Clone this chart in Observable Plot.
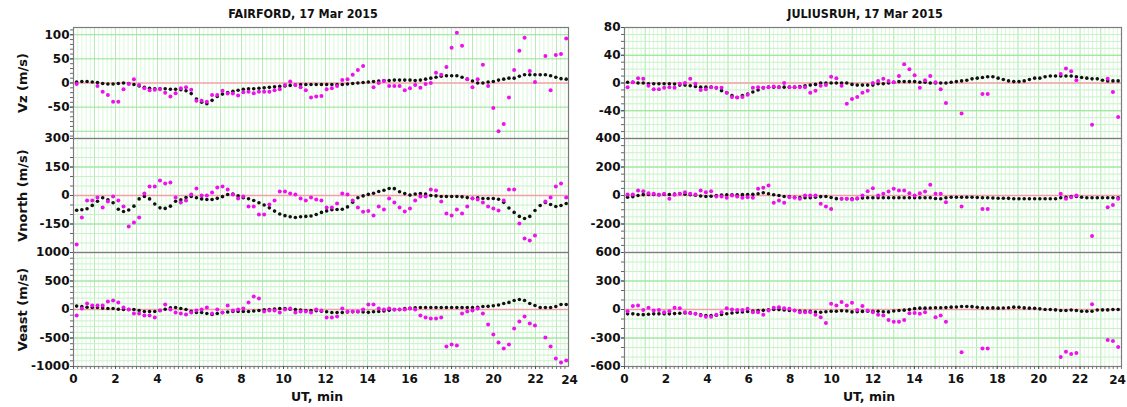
<!DOCTYPE html>
<html>
<head>
<meta charset="utf-8">
<script src="https://cdn.jsdelivr.net/npm/d3@7"></script>
<script src="https://cdn.jsdelivr.net/npm/@observablehq/plot@0.6"></script>
<style>
  body { margin: 0; background: #fff; }
  #chart { position: relative; width: 1127px; height: 407px; overflow: hidden; background: #fff; font-family: "DejaVu Sans", sans-serif; }
  #chart svg { position: absolute; }
  .title { position: absolute; font-weight: bold; font-size: 13px; line-height: 14px; white-space: nowrap; color: #111; transform: translateX(-50%) scaleX(0.86); }
</style>
</head>
<body>
<div id="chart"></div>
<script>
const _ = null;

// ---- sampling (minutes UT) ----
const tStart = 0.15;
const fairStep = 0.248;
const julStep = 0.252;
const fairXMax = 23.57;
const julXMax = 24;

// ---- tick labels ----
const xTickLabels = [0, 2, 4, 6, 8, 10, 12, 14, 16, 18, 20, 22];
const xLastLabel = 24;
const fairVzTicks = [100, 50, 0, -50];
const fairVnTicks = [300, 150, 0, -150];
const fairVeTicks = [1000, 500, 0, -500, -1000];
const julVzTicks = [80, 40, 0, -40];
const julVnTicks = [400, 200, 0, -200];
const julVeTicks = [600, 300, 0, -300, -600];

// ---- FAIRFORD ----
const fairVzModel = [2,3,3,2,1,-1,-2,-2,-1,0,
 -1,-3,-6,-9,-11,-12,-12,-12,-13,-13,
 -14,-16,-22,-33,-40,-43,-36,-28,-23,-20,
 -17,-15,-13,-12,-12,-11,-10,-9,-8,-7,
 -6,-5,-4,-3,-3,-3,-3,-3,-3,-3,
 -3,-3,-2,-1,0,1,2,3,4,5,
 5,6,6,6,6,5,6,8,10,12,
 14,15,15,15,12,8,4,0,0,2,
 3,6,8,10,10,14,17,17,17,17,
 17,15,12,9,8,8];
const fairVzMeas = [-2,_,_,_,-6,-18,-25,-39,-39,-13,
 -2,8,-4,-11,-15,-14,-13,-20,-28,-21,
 -11,-9,-14,-37,-37,-39,-25,-25,-16,-22,
 -22,-26,-19,-18,-21,-18,-18,-18,-15,-13,
 -4,3,-4,-9,-15,-30,-28,-27,-13,-11,
 -6,6,8,17,27,35,_,-9,0,4,
 -6,-6,-6,-15,-11,-4,-10,-2,0,21,
 17,33,73,104,77,8,-9,8,38,-6,
 -52,-100,-85,-30,27,67,94,25,2,_,
 56,-15,58,60,92,_];
const fairVnModel = [-78,-75,-70,-52,-30,-12,-22,-38,-72,-84,
 -76,-56,-18,-5,-18,-45,-65,-68,-56,-30,
 -22,-11,-5,-12,-18,-21,-21,-15,-6,5,
 8,-2,-12,-17,-26,-38,-50,-65,-82,-97,
 -106,-112,-116,-112,-110,-108,-100,-89,-81,-75,
 -74,-72,-60,-35,-12,-2,6,12,21,28,
 37,36,20,10,2,8,10,8,0,-2,
 -5,-5,-5,-5,-7,-11,-15,-12,-16,-16,
 -16,-20,-36,-66,-89,-110,-121,-110,-79,-53,
 -37,-47,-58,-53,-42,-37];
const fairVnMeas = [-258,-116,-26,-26,-11,-63,-32,-5,-26,-58,
 -163,-142,-116,10,47,47,79,63,68,-11,
 -37,-26,5,37,0,0,16,42,47,32,
 5,-16,-5,-58,-58,-100,-100,-47,-26,21,
 21,10,5,-16,-26,-11,-21,-26,-63,-63,
 -42,10,5,-26,-63,-86,-82,-105,-58,-74,
 -16,-37,-63,-84,-68,-26,-5,-5,32,26,
 -32,-95,-105,-74,-95,-58,-16,-21,-37,-58,
 -68,-79,-26,32,32,-147,-226,-237,-210,_,
 -32,-11,47,63,-11,_];
const fairVeModel = [60,53,40,35,35,25,18,18,5,0,
 0,0,-18,-35,-35,-35,-18,5,30,35,
 18,0,-30,-53,-53,-70,-88,-70,-53,-45,
 -35,-35,-35,-35,-25,-18,-5,0,10,18,
 15,5,0,-10,-18,-18,-20,-30,-40,-53,
 -53,-53,-45,-40,-40,-45,-50,-40,-35,-25,
 -15,-5,0,15,20,30,35,35,35,35,
 35,35,35,35,35,35,35,40,53,55,
 65,80,105,125,158,175,158,105,70,35,
 35,35,53,88,88,88];
const fairVeMeas = [-105,18,105,70,70,70,140,158,123,35,
 0,-70,-70,-105,-105,-140,-18,88,0,-53,
 -70,-88,-53,-18,0,35,-70,0,-53,70,
 -18,0,18,123,228,193,-35,-18,-18,-53,
 0,18,-53,-35,-35,-53,0,-18,-140,-140,
 -123,18,-35,-35,-35,0,88,88,18,0,
 18,0,0,0,18,0,-105,-140,-158,-158,
 -140,-649,-614,-631,-70,-35,-18,18,-70,-263,
 -438,-579,-684,-614,-333,-210,-123,-245,-280,_,
 -491,-649,-859,-930,-895,_];

// ---- JULIUSRUH ----
const julVzModel = [1,1,0,0,-1,-1,-1,-1,-1,-1.5,
 -3,-3,-4,-5,-6,-6,-6,-7,-11,-14,
 -18,-21,-18,-16,-13,-10,-7,-6,-6,-6,
 -6,-6,-6,-5,-4,-3,-2,0,0,0,
 0,0,0,-2,-3,-3,-3,-3,-1,-1,
 0,1,2,2,2,2,1,1,0,0,
 0,0,1,2,3,4,6,7,8,9,
 9,7,5,3,2,2,3,5,7,7,
 9,10,10,10,10,10,9,8,7,6,
 6,4,3,3,3,3];
const julVzMeas = [-6,1,7,6,-4,-9,-9,-7,-6,-7,
 -1,0,6,-1,-10,-9,-6,-7,-7,-14,
 -20,-21,-20,-17,-7,-6,-7,-6,-5,-6,
 0,-6,-6,-6,-6,-14,-11,-4,-3,9,
 7,-4,-30,-23,-20,-14,-11,0,3,6,
 3,1,10,27,20,11,-7,4,10,1,
 -9,-29,_,_,-44,_,_,_,-16,-16,
 _,_,_,_,_,_,_,_,_,_,
 _,_,_,13,21,17,4,_,_,-60,
 _,_,6,-13,-49,_];
const julVnModel = [-12,-8,0,6,7,7,6,7,7,10,
 12,9,6,2,-3,-7,-5,0,4,5,
 5,5,6,7,8,12,19,12,5,0,
 -7,-8,-12,-15,-16,-15,-12,-8,-7,-14,
 -22,-23,-23,-23,-23,-18,-16,-16,-16,-16,
 -16,-16,-16,-16,-16,-16,-16,-16,-16,-21,
 -23,-16,-12,-12,-12,-12,-12,-14,-16,-16,
 -18,-19,-19,-20,-23,-23,-23,-23,-23,-23,
 -23,-23,-23,-16,-12,-7,-7,-12,-16,-16,
 -16,-16,-16,-16,-16,-19];
const julVnMeas = [7,7,35,30,16,12,5,12,-23,5,
 12,23,12,7,35,23,30,-7,-7,-16,
 0,-7,-16,-12,-16,47,54,70,-51,-35,
 -51,-12,-16,-23,0,0,0,-58,-77,-94,
 _,-23,-23,-28,-19,0,30,51,0,12,
 28,47,35,35,16,0,16,28,75,12,
 12,-47,_,_,-77,_,_,_,-94,-94,
 _,_,_,_,_,_,_,_,_,_,
 _,_,_,12,-23,-12,0,_,_,-285,
 _,_,-82,-66,-23,_];
const julVeModel = [-46,-46,-52,-54,-50,-46,-46,-46,-46,-43,
 -39,-37,-36,-45,-56,-64,-64,-60,-52,-44,
 -37,-29,-26,-21,-17,-11,-9,-4,0,-1,
 -5,-11,-11,-16,-18,-20,-27,-29,-23,-19,
 -18,-13,-15,-25,-24,-20,-18,-18,-18,-24,
 -25,-15,-11,-7,0,9,14,14,16,18,
 18,20,25,27,32,32,30,24,17,15,
 17,14,16,19,25,24,17,14,12,7,
 0,0,-4,-11,-11,-5,-11,-18,-18,-18,
 -5,-4,-4,0,0,0];
const julVeMeas = [-18,36,43,-4,18,-11,-4,-29,-18,18,
 14,-29,-39,-46,-64,-75,-75,-54,-29,14,
 0,-4,-4,7,-29,-29,-54,-11,18,25,
 14,7,-11,-29,-29,-29,-54,-82,-143,61,
 43,79,43,71,-4,36,-11,-29,-54,-64,
 -111,-129,-129,-111,-39,-36,-46,-29,_,-82,
 -64,-129,_,_,-450,_,_,_,-411,-411,
 _,_,_,_,_,_,_,_,_,_,
 _,_,_,-500,-446,-468,-457,_,_,54,
 _,_,-321,-332,-396,_];

// ---- layout ----
const cols = {
  left:  { svgLeft: 0,   width: 600, ml: 73, mr: 32, step: fairStep, xMax: fairXMax, lastDx: -8, utDx: -4 },
  right: { svgLeft: 575, width: 552, ml: 49, mr: 6,  step: julStep,  xMax: julXMax,  lastDx: -4, utDx: -4 }
};
const rows = [ { top: 27, h: 111 }, { top: 138, h: 114 }, { top: 252, h: 114 } ];

const panels = [
  { col: "left", row: 0, yDomain: [-115, 115], ticks: fairVzTicks, minorTicks: d3.range(-110, 111, 10), gridMinor: [], gridMajor: [-100, -50, 50, 100], model: fairVzModel, meas: fairVzMeas, yTitle: "Vz (m/s)" },
  { col: "left", row: 1, yDomain: [-300, 300], ticks: fairVnTicks, minorTicks: d3.range(-300, 301, 50), gridMinor: d3.range(-250, 251, 50), gridMajor: [-150, 150], model: fairVnModel, meas: fairVnMeas, yTitle: "Vnorth (m/s)" },
  { col: "left", row: 2, yDomain: [-1000, 1000], ticks: fairVeTicks, minorTicks: d3.range(-1000, 1001, 100), gridMinor: d3.range(-900, 901, 100), gridMajor: [-500, 500], model: fairVeModel, meas: fairVeMeas, yTitle: "Veast (m/s)" },
  { col: "right", row: 0, yDomain: [-80, 80], ticks: julVzTicks, minorTicks: d3.range(-80, 81, 10), gridMinor: d3.range(-70, 71, 10), gridMajor: [-40, 40], model: julVzModel, meas: julVzMeas },
  { col: "right", row: 1, yDomain: [-400, 400], ticks: julVnTicks, minorTicks: d3.range(-400, 401, 50), gridMinor: d3.range(-350, 351, 50), gridMajor: [-200, 200], model: julVnModel, meas: julVnMeas },
  { col: "right", row: 2, yDomain: [-600, 600], ticks: julVeTicks, minorTicks: d3.range(-600, 601, 100), gridMinor: d3.range(-500, 501, 100), gridMajor: [-300, 300], model: julVeModel, meas: julVeMeas }
];

const chart = document.getElementById("chart");
const FONT = "DejaVu Sans";

function series(values, step, xMax) {
  return values.map((v, i) => ({ t: tStart + step * i, v }))
               .filter(d => d.v != null && d.t <= xMax);
}

for (const p of panels) {
  const c = cols[p.col];
  const r = rows[p.row];
  const bottom = p.row === 2;
  const mt = 10, mb = bottom ? 44 : 10;
  const xMinorGrid = d3.range(0, c.xMax + 1e-9, 0.2);
  const xMajorGrid = d3.range(0, c.xMax + 1e-9, 1);

  const marks = [
    Plot.ruleX(xMinorGrid, { stroke: "#daf7da", strokeWidth: 1 }),
    Plot.ruleX(xMajorGrid, { stroke: "#b4eeb4", strokeWidth: 1 }),
    Plot.ruleY(p.gridMinor, { stroke: "#c6f2c6", strokeWidth: 1 }),
    Plot.ruleY(p.gridMajor, { stroke: "#92e292", strokeWidth: 1 }),
    Plot.ruleY([0], { stroke: "#f2a0a8", strokeWidth: 1.6 }),
    Plot.dot(series(p.model, c.step, c.xMax), { x: "t", y: "v", r: 1.8, fill: "#111" }),
    Plot.dot(series(p.meas, c.step, c.xMax), { x: "t", y: "v", r: 2, fill: "#ee11ee" }),
    Plot.frame({ stroke: "#7c7c7c", strokeWidth: 1.2 }),
    Plot.axisY(p.minorTicks, { tickSize: 3, tickFormat: () => "", stroke: "#666" }),
    Plot.axisY(p.ticks, { tickSize: 3, tickPadding: 1, tickFormat: d => String(d), fontSize: 12, fontWeight: "bold", fill: "#111", stroke: "#555" })
  ];
  if (p.yTitle) {
    marks.push(Plot.text([p.yTitle], { text: d => d, frameAnchor: "left", dx: -51, rotate: -90, textAnchor: "middle", lineAnchor: "middle", fontSize: 13, fontWeight: "bold", fill: "#111" }));
  }
  if (bottom) {
    marks.push(
      Plot.axisX(xMinorGrid, { tickSize: 3, tickFormat: () => "", stroke: "#777" }),
      Plot.axisX(xTickLabels, { tickSize: 3, tickPadding: 5, tickFormat: d => String(d), fontSize: 12, fontWeight: "bold", fill: "#111", stroke: "#555" }),
      Plot.text([xLastLabel], { x: d => d, text: d => String(d), frameAnchor: "bottom", dy: 14, dx: c.lastDx, lineAnchor: "middle", fontSize: 12, fontWeight: "bold", fill: "#111" }),
      Plot.text(["UT, min"], { text: d => d, frameAnchor: "bottom", dy: 30, dx: c.utDx, lineAnchor: "middle", fontSize: 12.5, fontWeight: "bold", fill: "#111" })
    );
  }

  const svg = Plot.plot({
    width: c.width,
    height: r.h + mt + mb,
    marginLeft: c.ml,
    marginRight: c.mr,
    marginTop: mt,
    marginBottom: mb,
    x: { domain: [0, c.xMax], label: null, axis: bottom ? undefined : null },
    y: { domain: p.yDomain, label: null },
    style: { background: "transparent", fontFamily: FONT, overflow: "visible" },
    marks
  });
  svg.style.position = "absolute";
  svg.style.left = c.svgLeft + "px";
  svg.style.top = (r.top - mt) + "px";
  chart.appendChild(svg);
}

function addTitle(text, cx, top) {
  const d = document.createElement("div");
  d.className = "title";
  d.textContent = text;
  d.style.left = cx + "px";
  d.style.top = top + "px";
  chart.appendChild(d);
}
addTitle("FAIRFORD, 17 Mar 2015", 303, 7);
addTitle("JULIUSRUH, 17 Mar 2015", 865, 7);
</script>
</body>
</html>
